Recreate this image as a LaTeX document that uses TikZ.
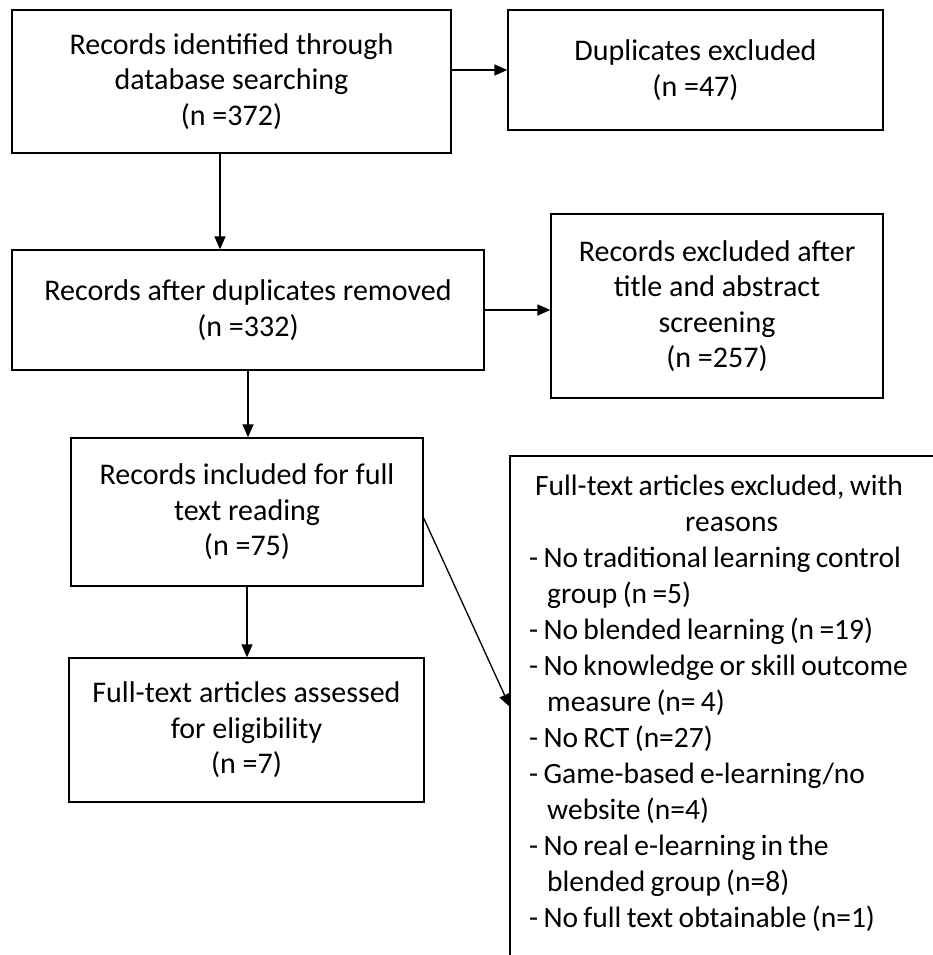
\documentclass[tikz,border=0pt]{standalone}
\usepackage{fontspec}
\setmainfont{Carlito}
\newfontfamily\exfont{Carlito}[WordSpace={0.8,0,0}]
\usetikzlibrary{arrows.meta}
\begin{document}
\begin{tikzpicture}[x=1pt,y=-1pt,
  box/.style={draw=black, line width=1.3pt, align=center, inner sep=0pt,
    font=\fontsize{30}{35.5}\selectfont},
  arr/.style={line width=1.3pt, -{Triangle[length=13pt,width=11pt]}}]
\useasboundingbox (0,0) rectangle (933,955);
\node[box, minimum width=439pt, minimum height=143pt] (b1) at (231.5,81.5)
  {Records identified through\\database searching\\(n =372)};
\node[box, minimum width=375pt, minimum height=120pt] (dup) at (695.5,70)
  {Duplicates excluded\\(n =47)};
\node[box, minimum width=472pt, minimum height=120pt] (b2) at (248,310)
  {Records after duplicates removed\\(n =332)};
\node[box, minimum width=332pt, minimum height=184pt] (b3) at (717,306)
  {Records excluded after\\title and abstract\\screening\\(n =257)};
\node[box, minimum width=352pt, minimum height=148pt] (b4) at (247,512)
  {Records included for full\\text reading\\(n =75)};
\node[box, minimum width=355pt, minimum height=144pt] (b5) at (246.5,730)
  {Full-text articles assessed\\for eligibility\\(n =7)};
\node[inner sep=0pt, anchor=north west, text width=400pt, align=flush left,
  font=\exfont\fontsize{29.5}{36}\selectfont] (ex) at (529,475)
  {\hspace*{6pt}Full-text articles excluded, with\\
   \hspace*{156pt}reasons\\
   - No traditional learning control\\
   \hspace*{18pt}group (n =5)\\
   - No blended learning (n =19)\\
   - No knowledge or skill outcome\\
   \hspace*{18pt}measure (n= 4)\\
   - No RCT (n=27)\\
   - Game-based e-learning/no\\
   \hspace*{18pt}website (n=4)\\
   - No real e-learning in the\\
   \hspace*{18pt}blended group (n=8)\\
   - No full text obtainable (n=1)};
\coordinate (exbl) at (510,955);
\coordinate (extl) at (510,456);
\coordinate (extr) at (933,456);
\coordinate (exin) at (510,707);
\draw[line width=1.3pt] (exbl) -- (extl) -- (extr);
\draw[arr] (b1.east |- dup.west) -- (dup.west);
\draw[arr] ([xshift=-11.5pt]b1.south) -- ([xshift=-11.5pt]b1.south |- b2.north);
\draw[arr] (b2.east) -- (b2.east -| b3.west);
\draw[arr] (b2.south) -- (b2.south |- b4.north);
\draw[arr] (b4.south) -- (b4.south |- b5.north);
\draw[arr] ([yshift=-6pt]b4.east) -- (exin);
\end{tikzpicture}
\end{document}
